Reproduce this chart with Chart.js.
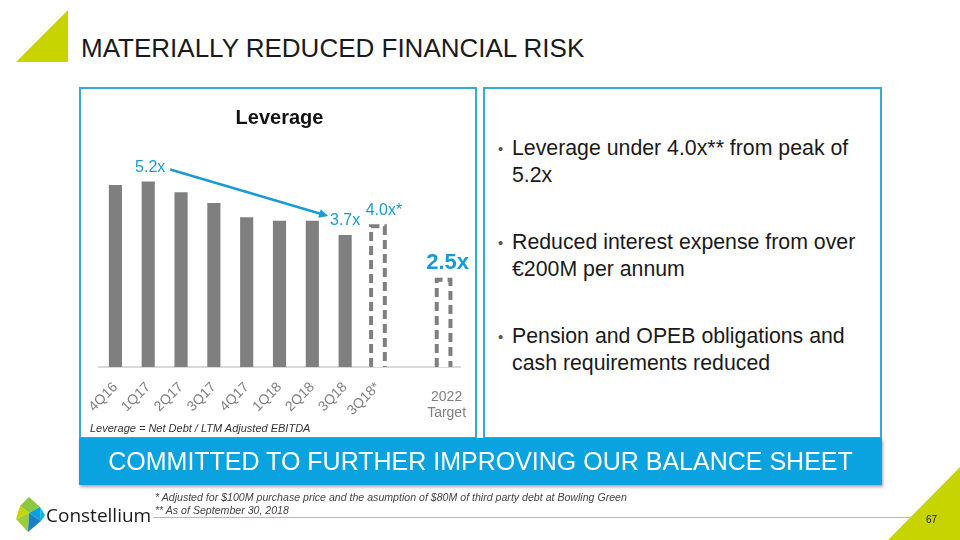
<!DOCTYPE html>
<html>
<head>
<meta charset="utf-8">
<script src="https://cdn.jsdelivr.net/npm/chart.js@4.4.1/dist/chart.umd.min.js"></script>
<style>
  html, body { margin: 0; padding: 0; }
  body { width: 960px; height: 540px; position: relative; overflow: hidden; background: #fff;
         font-family: "Liberation Sans", Arial, sans-serif; color: #1a1a1a; }
  .abs { position: absolute; }
  #title { left: 81px; top: 33px; font-size: 26px; line-height: 30px; white-space: nowrap; }
  .panel { border: 2px solid #36a9d8; box-sizing: border-box; background: #fff; }
  #leftPanel { left: 79px; top: 87px; width: 398px; height: 352px; }
  #rightPanel { left: 483px; top: 87px; width: 399px; height: 352px; }
  #chartBox { left: 80px; top: 89px; width: 396px; height: 348px; }
  #formula { left: 90px; top: 422px; font-size: 11px; font-style: italic; color: #333; }
  #banner { left: 79px; top: 438px; width: 803px; height: 47px; background: #0aa3e0; color: #fff;
            font-size: 25px; line-height: 47px; text-align: center; white-space: nowrap;
            box-shadow: 1px 2px 3px rgba(0,0,0,0.35); }
  ul { margin: 0; padding: 0; list-style: none; }
  #bullets { left: 498px; top: 135px; width: 370px; font-size: 21.3px; line-height: 27px; }
  #bullets li { position: relative; padding-left: 14px; margin-bottom: 40px; }
  #bullets li::before { content: "\2022"; position: absolute; left: 0; top: 0; font-size: 15px; color: #555; }
  .note { left: 155px; font-size: 10.6px; font-style: italic; color: #444; white-space: nowrap; }
  #footLine { left: 153px; top: 517px; width: 775px; height: 1px; background: #c8d400; }
  #pageNum { left: 926px; top: 514px; font-size: 10px; color: #222; }
  #logoText { left: 46px; top: 503px; font-family: "Open Sans", "Noto Sans", sans-serif; font-size: 19px; line-height: 24px; color: #1a1a1a; }
</style>
</head>
<body>
<svg class="abs" style="left:0;top:0" width="960" height="540">
  <polygon points="16,62 68,10 68,62" fill="#c8d400"/>
  <polygon points="888,540 960,467 960,540" fill="#c8d400"/>
  <!-- logo mark -->
  <polygon points="29,497 40,507 29,513 20,506" fill="#8dc63f"/>
  <polygon points="20,506 29,513 16,519" fill="#c8d400"/>
  <polygon points="29,513 40,507 41,521" fill="#00a3e0"/>
  <polygon points="16,519 29,513 28,532" fill="#9ccb3b"/>
  <polygon points="29,513 41,521 28,532" fill="#1e7fc0"/>
  <polygon points="40,507 45,515 41,521" fill="#00b5e2"/>
</svg>
<div id="title" class="abs">MATERIALLY REDUCED FINANCIAL RISK</div>
<div id="leftPanel" class="abs panel"></div>
<div id="rightPanel" class="abs panel"></div>
<div id="chartBox" class="abs"><canvas id="leverageChart"></canvas></div>
<div id="formula" class="abs">Leverage = Net Debt / LTM Adjusted EBITDA</div>
<ul id="bullets" class="abs">
  <li>Leverage under 4.0x** from peak of 5.2x</li>
  <li>Reduced interest expense from over €200M per annum</li>
  <li>Pension and OPEB obligations and cash requirements reduced</li>
</ul>
<div id="banner" class="abs">COMMITTED TO FURTHER IMPROVING OUR BALANCE SHEET</div>
<div class="abs note" style="top:491px">* Adjusted for $100M purchase price and the asumption of $80M of third party debt at Bowling Green</div>
<div class="abs note" style="top:504px">** As of September 30, 2018</div>
<div id="footLine" class="abs"></div>
<div id="pageNum" class="abs">67</div>
<div id="logoText" class="abs">Constellium</div>

<script>
const quarters = ['4Q16', '1Q17', '2Q17', '3Q17', '4Q17', '1Q18', '2Q18', '3Q18', '3Q18*', '', '2022 Target'];
const actualLeverage = [5.1, 5.2, 4.9, 4.6, 4.2, 4.1, 4.1, 3.7, null, null, null];
const proFormaLeverage = [null, null, null, null, null, null, null, null, 4.0, null, 2.5];
const callouts = [
    { index: 1, value: 5.2, text: '5.2x', dx: 2, big: false },
    { index: 7, value: 3.7, text: '3.7x', dx: 0, big: false },
    { index: 8, value: 4.0, text: '4.0x*', dx: 6, big: false },
    { index: 10, value: 2.5, text: '2.5x', dx: 4, big: true }
];

const blue = '#1c9ad6';
const gray = '#7f7f7f';

// dashed outline for the pro-forma bars
const dashedBars = {
    id: 'dashedBars',
    afterDatasetsDraw(chart) {
        const ctx = chart.ctx;
        const meta = chart.getDatasetMeta(1);
        ctx.save();
        ctx.strokeStyle = gray;
        ctx.lineWidth = 4;
        ctx.setLineDash([9, 5]);
        meta.data.forEach((bar, i) => {
            if (proFormaLeverage[i] == null) return;
            const p = bar.getProps(['x', 'y', 'base', 'width'], true);
            const l = p.x - p.width / 2 + 2, r = p.x + p.width / 2 - 2;
            ctx.beginPath();
            ctx.moveTo(l, p.base);
            ctx.lineTo(l, p.y + 2);
            ctx.lineTo(r, p.y + 2);
            ctx.lineTo(r, p.base);
            ctx.stroke();
        });
        ctx.restore();
    }
};

// value labels, the trend arrow and the target label
const annotations = {
    id: 'annotations',
    afterDraw(chart) {
        const ctx = chart.ctx;
        const x = chart.scales.x, y = chart.scales.y;
        ctx.save();
        ctx.textAlign = 'center';
        ctx.textBaseline = 'middle';
        callouts.forEach(c => {
            ctx.fillStyle = blue;
            ctx.font = c.big ? 'bold 22px "Liberation Sans", Arial' : '16px "Liberation Sans", Arial';
            ctx.fillText(c.text, x.getPixelForValue(c.index) + c.dx, y.getPixelForValue(c.value) - (c.big ? 15 : 14));
        });

        // arrow from the peak to the latest quarter
        const x0 = x.getPixelForValue(1) + 22, y0 = y.getPixelForValue(5.2) - 12;
        const x1 = x.getPixelForValue(7) - 17, y1 = y.getPixelForValue(3.7) - 19;
        const ang = Math.atan2(y1 - y0, x1 - x0);
        ctx.strokeStyle = blue;
        ctx.fillStyle = blue;
        ctx.lineWidth = 2.5;
        ctx.beginPath();
        ctx.moveTo(x0, y0);
        ctx.lineTo(x1 - 7 * Math.cos(ang), y1 - 7 * Math.sin(ang));
        ctx.stroke();
        ctx.beginPath();
        ctx.moveTo(x1, y1);
        ctx.lineTo(x1 - 9 * Math.cos(ang) + 4.5 * Math.sin(ang), y1 - 9 * Math.sin(ang) - 4.5 * Math.cos(ang));
        ctx.lineTo(x1 - 9 * Math.cos(ang) - 4.5 * Math.sin(ang), y1 - 9 * Math.sin(ang) + 4.5 * Math.cos(ang));
        ctx.closePath();
        ctx.fill();

        // horizontal label for the target bar
        ctx.fillStyle = gray;
        ctx.font = '14px "Liberation Sans", Arial';
        const tx = x.getPixelForValue(10) + 3;
        ctx.fillText('2022', tx, x.bottom - 40);
        ctx.fillText('Target', tx, x.bottom - 24);
        ctx.restore();
    }
};

new Chart(document.getElementById('leverageChart'), {
    type: 'bar',
    data: {
        labels: quarters,
        datasets: [{
            data: actualLeverage,
            backgroundColor: gray,
            barPercentage: 0.4,
            categoryPercentage: 1,
            grouped: false
        }, {
            data: proFormaLeverage,
            backgroundColor: '#ffffff',
            borderWidth: 0,
            barPercentage: 0.54,
            categoryPercentage: 1,
            grouped: false
        }]
    },
    options: {
        responsive: true,
        maintainAspectRatio: false,
        animation: false,
        layout: { padding: { left: 19, right: 16, top: 0, bottom: 0 } },
        plugins: {
            legend: { display: false },
            tooltip: { enabled: false },
            title: {
                display: true,
                text: 'Leverage',
                color: '#111',
                font: { family: '"Liberation Sans", Arial', size: 20, weight: 'bold' },
                padding: { top: 17, bottom: 23 }
            }
        },
        scales: {
            x: {
                grid: { display: false },
                border: { display: true, color: '#d9d9d9', width: 2 },
                ticks: {
                    color: gray,
                    font: { family: '"Liberation Sans", Arial', size: 14 },
                    minRotation: 45,
                    maxRotation: 45,
                    autoSkip: false,
                    padding: 4,
                    callback: function (value, index) {
                        return index >= 9 ? '' : quarters[index];
                    }
                },
                afterFit: function (axis) { axis.height = 70; }
            },
            y: {
                display: false,
                min: 0,
                max: 6
            }
        }
    },
    plugins: [dashedBars, annotations]
});
</script>
</body>
</html>
